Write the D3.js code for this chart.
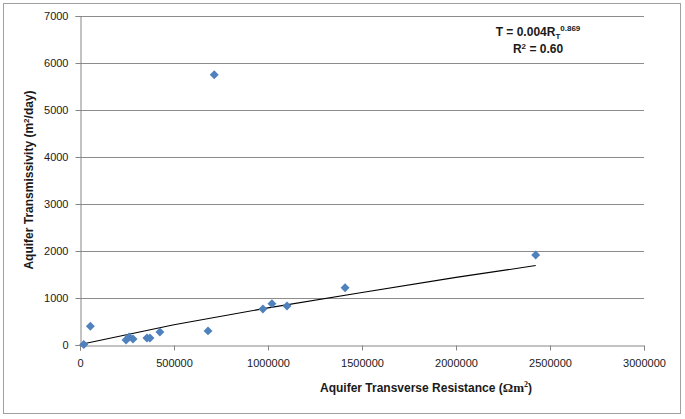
<!DOCTYPE html>
<html>
<head>
<meta charset="utf-8">
<script src="https://cdn.jsdelivr.net/npm/d3@7"></script>
<style>
  body { margin: 0; background: #fff; }
  svg { display: block; font-family: 'Liberation Sans', Arial, sans-serif; }
</style>
</head>
<body>
<div class="svg-container"></div>
<script>
// values
const resistance = [20000, 55000, 245000, 261000, 282000, 356000, 372000, 425000, 681000, 714000, 973000, 1021000, 1101000, 1410000, 2424000];
const transmissivity = [10, 400, 105, 170, 128, 150, 150, 275, 300, 5750, 765, 880, 830, 1220, 1915];
// power trend line, read at a few points along the drawn line
const trendR = [20000, 500000, 1000000, 1500000, 2000000, 2424000];
const trendT = [26, 430, 790, 1118, 1438, 1690];
const xTicks = [0, 500000, 1000000, 1500000, 2000000, 2500000, 3000000];
const yTicks = [0, 1000, 2000, 3000, 4000, 5000, 6000, 7000];

const width = 685;
const height = 419;
const plot = { left: 80, right: 644, top: 16, bottom: 345 };

const svg = d3.select('.svg-container')
    .append('svg')
    .attr('width', width)
    .attr('height', height);

// chart frame
svg.append('rect')
    .attr('x', 3.5).attr('y', 3.5)
    .attr('width', 677).attr('height', 410)
    .attr('fill', '#fff')
    .attr('stroke', '#a0a0a0');

const x = d3.scaleLinear().domain([0, 3000000]).range([plot.left, plot.right]);
const y = d3.scaleLinear().domain([0, 7000]).range([plot.bottom, plot.top]);

// horizontal gridlines
svg.append('g')
    .selectAll('line')
    .data(yTicks.slice(1))
    .enter()
    .append('line')
    .attr('x1', plot.left).attr('x2', plot.right)
    .attr('y1', (d) => Math.round(y(d)) + 0.5)
    .attr('y2', (d) => Math.round(y(d)) + 0.5)
    .attr('stroke', '#8c8c8c');

// x axis
const xAxis = svg.append('g')
    .attr('transform', `translate(0, ${plot.bottom + 0.5})`)
    .call(d3.axisBottom(x).tickValues(xTicks).tickFormat(d3.format('d')).tickSize(5).tickPadding(9));
// y axis
const yAxis = svg.append('g')
    .attr('transform', `translate(${plot.left + 0.5}, 0)`)
    .call(d3.axisLeft(y).tickValues(yTicks).tickFormat(d3.format('d')).tickSize(5).tickPadding(7));

[xAxis, yAxis].forEach((g) => {
    g.select('.domain').attr('stroke', '#868686');
    g.selectAll('.tick line').attr('stroke', '#868686');
    g.selectAll('.tick text')
        .attr('fill', '#1a1a1a')
        .style('font-size', '11px')
        .style('font-family', "'Liberation Sans', Arial, sans-serif");
});

// trend line
const line = d3.line()
    .x((d, i) => x(trendR[i]))
    .y((d, i) => y(trendT[i]));
svg.append('path')
    .datum(trendR)
    .attr('d', line)
    .attr('fill', 'none')
    .attr('stroke', '#000')
    .attr('stroke-width', 1.1);

// diamond markers
const diamond = d3.symbol().type(d3.symbolSquare).size(40);
svg.append('g')
    .selectAll('path')
    .data(resistance)
    .enter()
    .append('path')
    .attr('d', diamond)
    .attr('transform', (d, i) => `translate(${x(d)}, ${y(transmissivity[i])}) rotate(45)`)
    .attr('fill', '#4f81bd');

// axis titles
svg.append('text')
    .attr('transform', 'translate(33, 180) rotate(-90)')
    .attr('text-anchor', 'middle')
    .style('font-size', '12px')
    .style('font-weight', 'bold')
    .attr('fill', '#1a1a1a')
    .html('Aquifer Transmissivity (m<tspan dy="-4" font-size="8px">2</tspan><tspan dy="4">/day)</tspan>');

svg.append('text')
    .attr('x', 426).attr('y', 392)
    .attr('text-anchor', 'middle')
    .style('font-size', '12px')
    .style('font-weight', 'bold')
    .attr('fill', '#1a1a1a')
    .html('Aquifer Transverse Resistance (<tspan font-family="Liberation Serif, serif" font-size="13px">Ωm</tspan><tspan dy="-5" font-size="8px" font-family="Liberation Serif, serif">2</tspan><tspan dy="5">)</tspan>');

// equation
svg.append('text')
    .attr('x', 538).attr('y', 36)
    .attr('text-anchor', 'middle')
    .style('font-size', '12px')
    .style('font-weight', 'bold')
    .attr('fill', '#1a1a1a')
    .html('T = 0.004R<tspan dy="3" font-size="8px">T</tspan><tspan dy="-8" font-size="8px">0.869</tspan>');

svg.append('text')
    .attr('x', 538).attr('y', 53)
    .attr('text-anchor', 'middle')
    .style('font-size', '12px')
    .style('font-weight', 'bold')
    .attr('fill', '#1a1a1a')
    .html('R<tspan dy="-4" font-size="8px">2</tspan><tspan dy="4"> = 0.60</tspan>');
</script>
</body>
</html>
